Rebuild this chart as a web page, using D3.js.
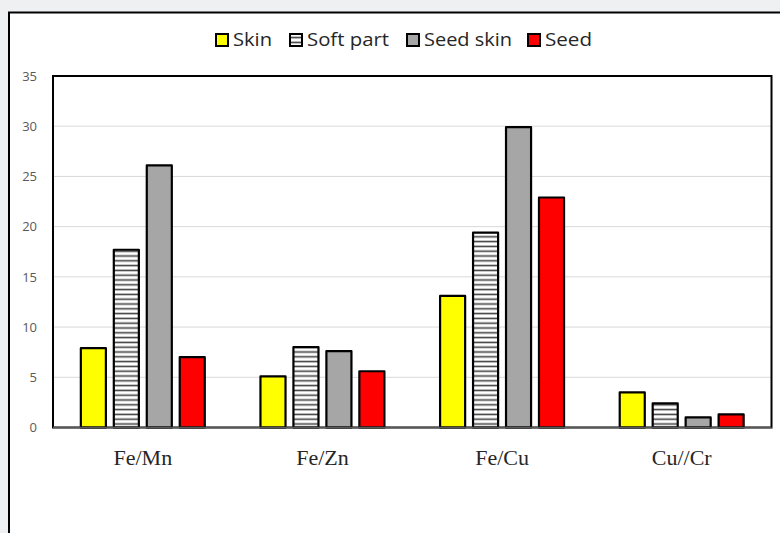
<!DOCTYPE html>
<html>
<head>
<meta charset="utf-8">
<script src="https://d3js.org/d3.v7.min.js"></script>
<style>
  html, body { margin: 0; padding: 0; background: #eff0f2; }
  #chart { position: absolute; left: 0; top: 0; }
</style>
</head>
<body>
<div id="chart"></div>
<script>
// Data
const ratios = ["Fe/Mn", "Fe/Zn", "Fe/Cu", "Cu//Cr"];
const parts = ["Skin", "Soft part", "Seed skin", "Seed"];
const skin = [7.9, 5.1, 13.1, 3.5];
const softPart = [17.7, 8.0, 19.4, 2.4];
const seedSkin = [26.1, 7.6, 29.9, 1.0];
const seed = [7.0, 5.6, 22.9, 1.3];
const yTicks = [0, 5, 10, 15, 20, 25, 30, 35];

const seriesValues = [skin, softPart, seedSkin, seed];
const fills = ["#ffff00", "url(#stripes)", "#a6a6a6", "#ff0000"];

const width = 780, height = 533;
const margin = { top: 76, right: 8, bottom: 105, left: 53 };

const svg = d3.select("#chart").append("svg")
  .attr("width", width)
  .attr("height", height);

// stripe pattern for "Soft part"
const defs = svg.append("defs");
const pat = defs.append("pattern")
  .attr("id", "stripes")
  .attr("patternUnits", "userSpaceOnUse")
  .attr("width", 8).attr("height", 4.8);
pat.append("rect").attr("width", 8).attr("height", 4.8).attr("fill", "#fff");
pat.append("rect").attr("y", 1.6).attr("width", 8).attr("height", 1.6).attr("fill", "#404040");

// outer frame
svg.append("rect")
  .attr("x", 9).attr("y", 12.5)
  .attr("width", 800).attr("height", 600)
  .attr("fill", "#fff")
  .attr("stroke", "#000")
  .attr("stroke-width", 2);

const plotW = width - margin.left - margin.right - 0.5;
const plotH = height - margin.top - margin.bottom - 0.5;

const g = svg.append("g").attr("transform", `translate(${margin.left},${margin.top})`);

const x0 = d3.scaleBand().domain(ratios).range([0, plotW]).paddingInner(0.31).paddingOuter(0.155);
const x1 = d3.scaleBand().domain(parts).range([0, x0.bandwidth()]).paddingInner(0.24);
const y = d3.scaleLinear().domain([0, 35]).range([plotH, 0]);

// gridlines
g.append("g")
  .selectAll("line")
  .data(yTicks.filter(d => d > 0 && d < 35))
  .join("line")
  .attr("x1", 0).attr("x2", plotW)
  .attr("y1", d => y(d)).attr("y2", d => y(d))
  .attr("stroke", "#d9d9d9")
  .attr("stroke-width", 1);

// y axis labels
const yAxis = d3.axisLeft(y).tickValues(yTicks).tickSize(0).tickPadding(16);
g.append("g")
  .call(yAxis)
  .call(s => s.select(".domain").remove())
  .selectAll("text")
  .attr("fill", "#595959")
  .style("font-family", "'Open Sans', sans-serif")
  .style("font-size", "13px");

// bars
const groups = g.append("g")
  .selectAll("g")
  .data(ratios)
  .join("g")
  .attr("transform", d => `translate(${x0(d)},0)`);

groups.selectAll("rect")
  .data((d, i) => parts.map((p, j) => ({ part: p, j, value: seriesValues[j][i] })))
  .join("rect")
  .attr("x", d => x1(d.part))
  .attr("y", d => y(d.value))
  .attr("width", x1.bandwidth())
  .attr("height", d => plotH - y(d.value))
  .attr("fill", d => fills[d.j])
  .attr("stroke", "#000")
  .attr("stroke-width", 2.2)
  .attr("stroke-linejoin", "round");

// plot border
g.append("rect")
  .attr("x", 0).attr("y", 0)
  .attr("width", plotW).attr("height", plotH)
  .attr("fill", "none")
  .attr("stroke", "#000")
  .attr("stroke-width", 2);

// x axis line (gray)
g.append("line")
  .attr("x1", 0).attr("x2", plotW)
  .attr("y1", plotH).attr("y2", plotH)
  .attr("stroke", "#595959").attr("stroke-width", 1.5);

// x labels
const xAxis = d3.axisBottom(x0).tickSize(0).tickPadding(22);
g.append("g")
  .attr("transform", `translate(0,${plotH})`)
  .call(xAxis)
  .call(s => s.select(".domain").remove())
  .selectAll("text")
  .attr("fill", "#262626")
  .style("font-family", "'Liberation Serif', serif")
  .style("font-size", "22px");

// legend
const legendItems = [
  { name: "Skin", x: 216, w: 39 },
  { name: "Soft part", x: 290, w: 82 },
  { name: "Seed skin", x: 407, w: 88 },
  { name: "Seed", x: 528, w: 47 }
];
const legend = svg.append("g").attr("transform", "translate(0,40)");
const li = legend.selectAll("g")
  .data(legendItems)
  .join("g")
  .attr("transform", d => `translate(${d.x},0)`);
li.append("rect")
  .attr("x", 0).attr("y", -6)
  .attr("width", 12).attr("height", 12)
  .attr("fill", (d, i) => fills[i])
  .attr("stroke", "#000")
  .attr("stroke-width", 2);
li.append("text")
  .attr("x", 17).attr("y", 0)
  .attr("dy", "0.35em")
  .attr("fill", "#262626")
  .attr("textLength", d => d.w)
  .attr("lengthAdjust", "spacingAndGlyphs")
  .style("font-family", "'Open Sans', sans-serif")
  .style("font-size", "18px")
  .text(d => d.name);
</script>
</body>
</html>
